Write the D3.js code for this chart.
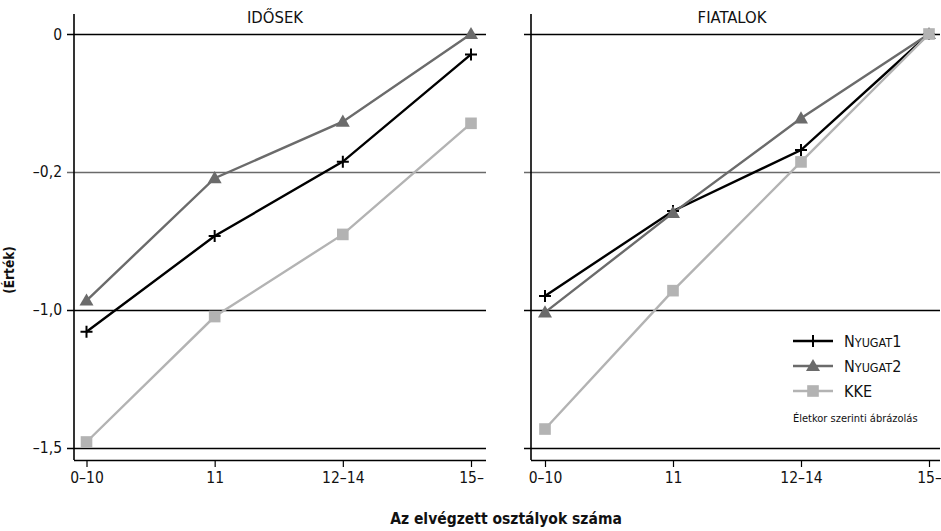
<!DOCTYPE html>
<html>
<head>
<meta charset="utf-8">
<script src="https://cdn.jsdelivr.net/npm/d3@7"></script>
<style>
  body { margin: 0; background: #fff; }
  svg { display: block; font-family: "DejaVu Sans Condensed", "Liberation Sans Narrow", sans-serif; }
</style>
</head>
<body>
<svg id="chart" width="941" height="531"></svg>
<script>
// Categories: number of completed school years
const categories = ["0–10", "11", "12–14", "15–"];
const tickValues = [0, -0.5, -1.0, -1.5];
const tickLabels = ["0", "–0,2", "–1,0", "–1,5"];
const panelTitles = ["IDŐSEK", "FIATALOK"];
const seriesNames = ["Nyugat1", "Nyugat2", "KKE"];

// Older group
const idosekNyugat1 = [-1.080, -0.733, -0.463, -0.074];
const idosekNyugat2 = [-0.967, -0.523, -0.318, 0];
const idosekKKE     = [-1.480, -1.025, -0.727, -0.324];
// Younger group
const fiatalokNyugat1 = [-0.950, -0.642, -0.421, 0];
const fiatalokNyugat2 = [-1.010, -0.649, -0.306, 0];
const fiatalokKKE     = [-1.433, -0.931, -0.464, 0];

const panels = [
  { title: panelTitles[0], series: [idosekNyugat1, idosekNyugat2, idosekKKE],
    axisX: 74, right: 486, first: 86.5, last: 471, titleX: 275, labels: true },
  { title: panelTitles[1], series: [fiatalokNyugat1, fiatalokNyugat2, fiatalokKKE],
    axisX: 531, right: 940, first: 545, last: 929, titleX: 732, labels: false }
];

const colors = ["#000000", "#6b6b6b", "#b3b3b3"];
const markers = [d3.symbolCross, d3.symbolTriangle, d3.symbolSquare];

const svg = d3.select("#chart");
const plotTop = 14, plotBottom = 460;
const y = d3.scaleLinear().domain([0, -1.5]).range([34, 447.5]);
const crisp = v => Math.round(y(v)) + 0.5;

function drawMarker(g, type, cx, cy, color) {
  if (type === 0) {
    // thin plus sign
    g.append("path")
      .attr("d", `M${cx-6},${cy}H${cx+6}M${cx},${cy-6}V${cy+6}`)
      .attr("stroke", color).attr("stroke-width", 2).attr("fill", "none");
  } else if (type === 1) {
    g.append("path")
      .attr("d", d3.symbol().type(markers[1]).size(85)())
      .attr("transform", `translate(${cx},${cy + 1})`)
      .attr("fill", color);
  } else {
    g.append("path")
      .attr("d", d3.symbol().type(markers[2]).size(135)())
      .attr("transform", `translate(${cx},${cy})`)
      .attr("fill", color);
  }
}

panels.forEach(p => {
  const g = svg.append("g");
  const x = d3.scalePoint().domain(categories).range([p.first, p.last]);

  // horizontal reference lines
  tickValues.forEach((v, i) => {
    g.append("line")
      .attr("x1", p.axisX - 7).attr("x2", p.right)
      .attr("y1", crisp(v)).attr("y2", crisp(v))
      .attr("stroke", i === 1 ? "#6a6a6a" : "#000")
      .attr("stroke-width", 1.3);
  });

  // y axis line
  g.append("line")
    .attr("x1", p.axisX).attr("x2", p.axisX)
    .attr("y1", plotTop).attr("y2", plotBottom)
    .attr("stroke", "#000").attr("stroke-width", 1.6);

  if (p.labels) {
    g.selectAll(".ylab").data(tickValues).enter().append("text")
      .attr("x", p.axisX - 12).attr("y", d => y(d))
      .attr("dy", "0.36em").attr("text-anchor", "end")
      .attr("font-size", 15.5).attr("fill", "#111")
      .text((d, i) => tickLabels[i]);
  }

  // x axis
  const xAxis = d3.axisBottom(x).tickSize(7).tickPadding(5);
  const ax = g.append("g").attr("transform", `translate(0,${plotBottom})`).call(xAxis);
  ax.select(".domain").attr("d", `M${p.axisX},0.5H${p.right}`)
    .attr("stroke", "#000").attr("stroke-width", 1.6);
  ax.selectAll(".tick line").attr("stroke", "#000").attr("stroke-width", 1.2);
  ax.selectAll(".tick text").attr("font-size", 15.5).attr("fill", "#111")
    .attr("font-family", "DejaVu Sans Condensed, Liberation Sans Narrow, sans-serif");

  // panel title
  g.append("text")
    .attr("x", p.titleX).attr("y", 23)
    .attr("text-anchor", "middle").attr("font-size", 16.5).attr("fill", "#111")
    .text(p.title);

  // series lines + markers
  const line = d3.line().x((d, i) => x(categories[i])).y(d => y(d));
  p.series.forEach((vals, si) => {
    g.append("path").datum(vals)
      .attr("d", line).attr("fill", "none")
      .attr("stroke", colors[si]).attr("stroke-width", 2.4);
  });
  p.series.forEach((vals, si) => {
    vals.forEach((v, i) => drawMarker(g, si, x(categories[i]), y(v), colors[si]));
  });
});

// axis titles
svg.append("text")
  .attr("x", 506).attr("y", 524)
  .attr("text-anchor", "middle").attr("font-size", 15.5).attr("font-weight", "bold")
  .attr("fill", "#111")
  .text("Az elvégzett osztályok száma");

svg.append("text")
  .attr("transform", "translate(14,270) rotate(-90)")
  .attr("text-anchor", "middle").attr("font-size", 13.5).attr("font-weight", "bold")
  .attr("fill", "#111")
  .text("(Érték)");

// legend
const legend = svg.append("g");
const legendY = [341, 366, 391];
seriesNames.forEach((name, i) => {
  legend.append("line")
    .attr("x1", 793).attr("x2", 833)
    .attr("y1", legendY[i]).attr("y2", legendY[i])
    .attr("stroke", colors[i]).attr("stroke-width", 2.4);
  drawMarker(legend, i, 813, legendY[i], colors[i]);
  const t = legend.append("text")
    .attr("x", 844).attr("y", legendY[i]).attr("dy", "0.36em")
    .attr("font-size", 16).attr("fill", "#111");
  if (i < 2) {
    // small-caps style: capital initial, reduced capitals, full-size digit
    t.append("tspan").text(name.charAt(0));
    t.append("tspan").attr("font-size", 12.5).text(name.slice(1, -1).toUpperCase());
    t.append("tspan").text(name.slice(-1));
  } else {
    t.text(name);
  }
});
legend.append("text")
  .attr("x", 793).attr("y", 422)
  .attr("font-size", 11).attr("fill", "#111")
  .text("Életkor szerinti ábrázolás");
</script>
</body>
</html>
